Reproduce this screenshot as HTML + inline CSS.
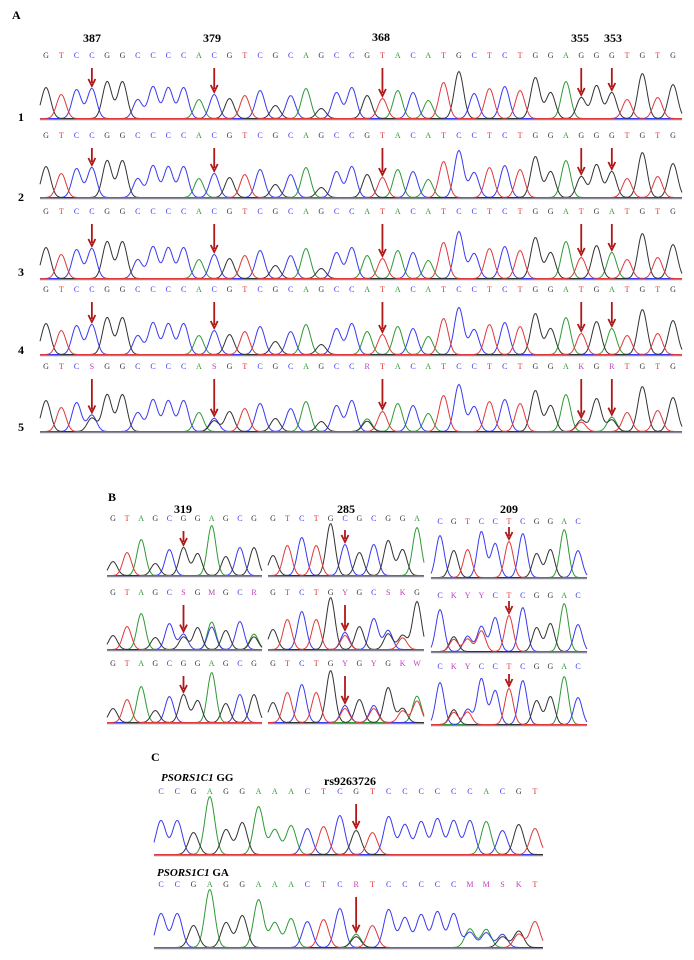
<!DOCTYPE html>
<html><head><meta charset="utf-8"><style>
html,body{margin:0;padding:0;background:#fff;width:694px;height:960px;overflow:hidden}
svg text{font-family:"Liberation Serif",serif}
</style></head><body>
<svg id="fig" width="694" height="960" viewBox="0 0 694 960" xmlns="http://www.w3.org/2000/svg">
<text x="12" y="19" font-size="12" font-weight="bold">A</text>
<text x="108" y="501" font-size="12" font-weight="bold">B</text>
<text x="151" y="761" font-size="12" font-weight="bold">C</text>
<g font-size="12" font-weight="bold" font-family="Liberation Sans, sans-serif">
<text x="83" y="42">387</text>
<text x="203" y="42">379</text>
<text x="372" y="41">368</text>
<text x="571" y="42">355</text>
<text x="604" y="42">353</text>
<text x="174" y="513">319</text>
<text x="337" y="513">285</text>
<text x="500" y="513">209</text>
</g>
<g font-size="12" font-weight="bold">
<text x="18" y="121">1</text>
<text x="18" y="201">2</text>
<text x="18" y="276">3</text>
<text x="18" y="354">4</text>
<text x="18" y="431">5</text>
</g>
<text x="161" y="781" font-size="11" font-weight="bold" font-style="italic">PSORS1C1 <tspan font-style="normal">GG</tspan></text>
<text x="324" y="785" font-size="12" font-weight="bold">rs9263726</text>
<text x="157" y="876" font-size="11" font-weight="bold" font-style="italic">PSORS1C1 <tspan font-style="normal">GA</tspan></text>
<g id="traces"></g>
</svg>
<script>
// Sequences (base calls)
const seqA = [
 "GTCCGGCCCCACGTCGCAGCCGTACATGCTCTGGAGGGTGTG",
 "GTCCGGCCCCACGTCGCAGCCGTACATCCTCTGGAGGGTGTG",
 "GTCCGGCCCCACGTCGCAGCCATACATCCTCTGGATGATGTG",
 "GTCCGGCCCCACGTCGCAGCCATACATCCTCTGGATGATGTG",
 "GTCSGGCCCCASGTCGCAGCCRTACATCCTCTGGAKGRTGTG"];
const heightsA = [31,24,29,30,37,37,19,32,31,31,19,24,20,23,28,13,23,30,10,26,31,23,20,28,26,18,36,47,25,30,32,28,41,26,37,21,33,26,19,45,21,34];
const arrowsA = [3,11,22,35,37];
const seqB1 = ["GTAGCGGAGCG","GTAGCSGMGCR","GTAGCGGAGCG"];
const seqB2 = ["GTCTGCGCGGA","GTCTGYGCSKG","GTCTGYGYGKW"];
const seqB3 = ["CGTCCTCGGAC","CKYYCTCGGAC","CKYCCTCGGAC"];
const heightsB1 = [14,23,36,12,26,28,22,50,19,28,28];
const heightsB2 = [20,30,38,30,52,31,23,31,35,26,48];
const heightsB3 = [42,27,28,46,34,36,44,24,28,48,27];
const arrowB = [5];
const seqC = ["CCGAGGAAACTCGTCCCCCCACGT","CCGAGGAAACTCRTCCCCCMMSKT"];
const heightsC = [34,34,22,58,25,32,48,25,29,26,28,39,24,22,38,30,33,36,34,34,33,24,30,26];
const arrowC = [12];

const NS="http://www.w3.org/2000/svg";
const g=document.getElementById('traces');
const COL={A:'#2f9a35',C:'#3a3af0',G:'#333333',T:'#e0393b'};
const AMB={Y:'CT',S:'CG',M:'AC',K:'GT',R:'AG',W:'AT'};
function mk(tag,attrs){const e=document.createElementNS(NS,tag);for(const k in attrs)e.setAttribute(k,attrs[k]);g.appendChild(e);return e;}

function track(name,seq,heights,arrows,opt){
 const n=seq.length, step=(opt.lx1-opt.lx0)/(n-1);
 const xOf=i=>opt.lx0+i*step;
 const paths={A:[],C:[],G:[],T:[]};
 const peakTop=[];
 for(let i=0;i<n;i++){
  const b=seq[i], h=heights[i%heights.length];
  let comps = AMB[b] ? [[AMB[b][0],h*0.55],[AMB[b][1],h*0.45]] : [[b,h]];
  peakTop.push(opt.base-Math.max(...comps.map(c=>c[1])));
  comps.forEach(([bb,hh])=>paths[bb].push([xOf(i),hh]));
 }
 const bl=mk('line',{x1:opt.tx0,x2:opt.tx1,y1:opt.base+0.5,y2:opt.base+0.5,stroke:'#8a8a9a',"stroke-width":'1.5'});
 
 
 for(const b in paths){
  let d='';
  const sig=step*0.3;
  for(let x=opt.tx0;x<=opt.tx1;x+=1){
   let y=0.5;
   paths[b].forEach(([c,h])=>{y+=h*Math.exp(-((x-c)*(x-c))/(2*sig*sig));});
   d+=(d?'L':'M')+x.toFixed(1)+' '+(opt.base-y).toFixed(1);
  }
  const p=mk('path',{d:d,fill:'none',stroke:COL[b],'stroke-width':'1'});
  
  
 }
 for(let i=0;i<n;i++){
  const b=seq[i];
  const t=mk('text',{x:xOf(i),y:opt.ly,'font-size':'8','text-anchor':'middle',fill:COL[b]||'#c040c0'});
  t.textContent=b;
  
  
 }
 arrows.forEach(i=>{
  const x=xOf(i), y2=peakTop[i]-3, y1=Math.min(opt.ly+10,y2-12);
  const a=mk('path',{d:`M${x} ${y1}L${x} ${y2-3}M${x-3.5} ${y2-7}L${x} ${y2}L${x+3.5} ${y2-7}`,stroke:'#b01818','stroke-width':'1.8',fill:'none'});
  
  
 });
}
const aBase=[119,198,279,355,432], aLet=[58,138,214,292,369];
seqA.forEach((s,k)=>track('sample-'+(k+1),s,heightsA,arrowsA,{lx0:46,lx1:673,tx0:40,tx1:682,base:aBase[k],ly:aLet[k]}));
const bBase=[576,650,723], bLet=[521,595,666];
seqB1.forEach((s,k)=>track('b1-row'+(k+1),s,heightsB1,arrowB,{lx0:113,lx1:254,tx0:107,tx1:262,base:bBase[k],ly:bLet[k]}));
seqB2.forEach((s,k)=>track('b2-row'+(k+1),s,heightsB2,arrowB,{lx0:273,lx1:417,tx0:268,tx1:424,base:bBase[k],ly:bLet[k]}));
seqB3.forEach((s,k)=>track('b3-row'+(k+1),s,heightsB3,arrowB,{lx0:440,lx1:578,tx0:431,tx1:587,base:bBase[k]+2,ly:bLet[k]+3}));
track('c-gg',seqC[0],heightsC,arrowC,{lx0:161,lx1:535,tx0:154,tx1:543,base:855,ly:794});
track('c-ga',seqC[1],heightsC,arrowC,{lx0:161,lx1:535,tx0:154,tx1:543,base:948,ly:887});
</script>
</body></html>
